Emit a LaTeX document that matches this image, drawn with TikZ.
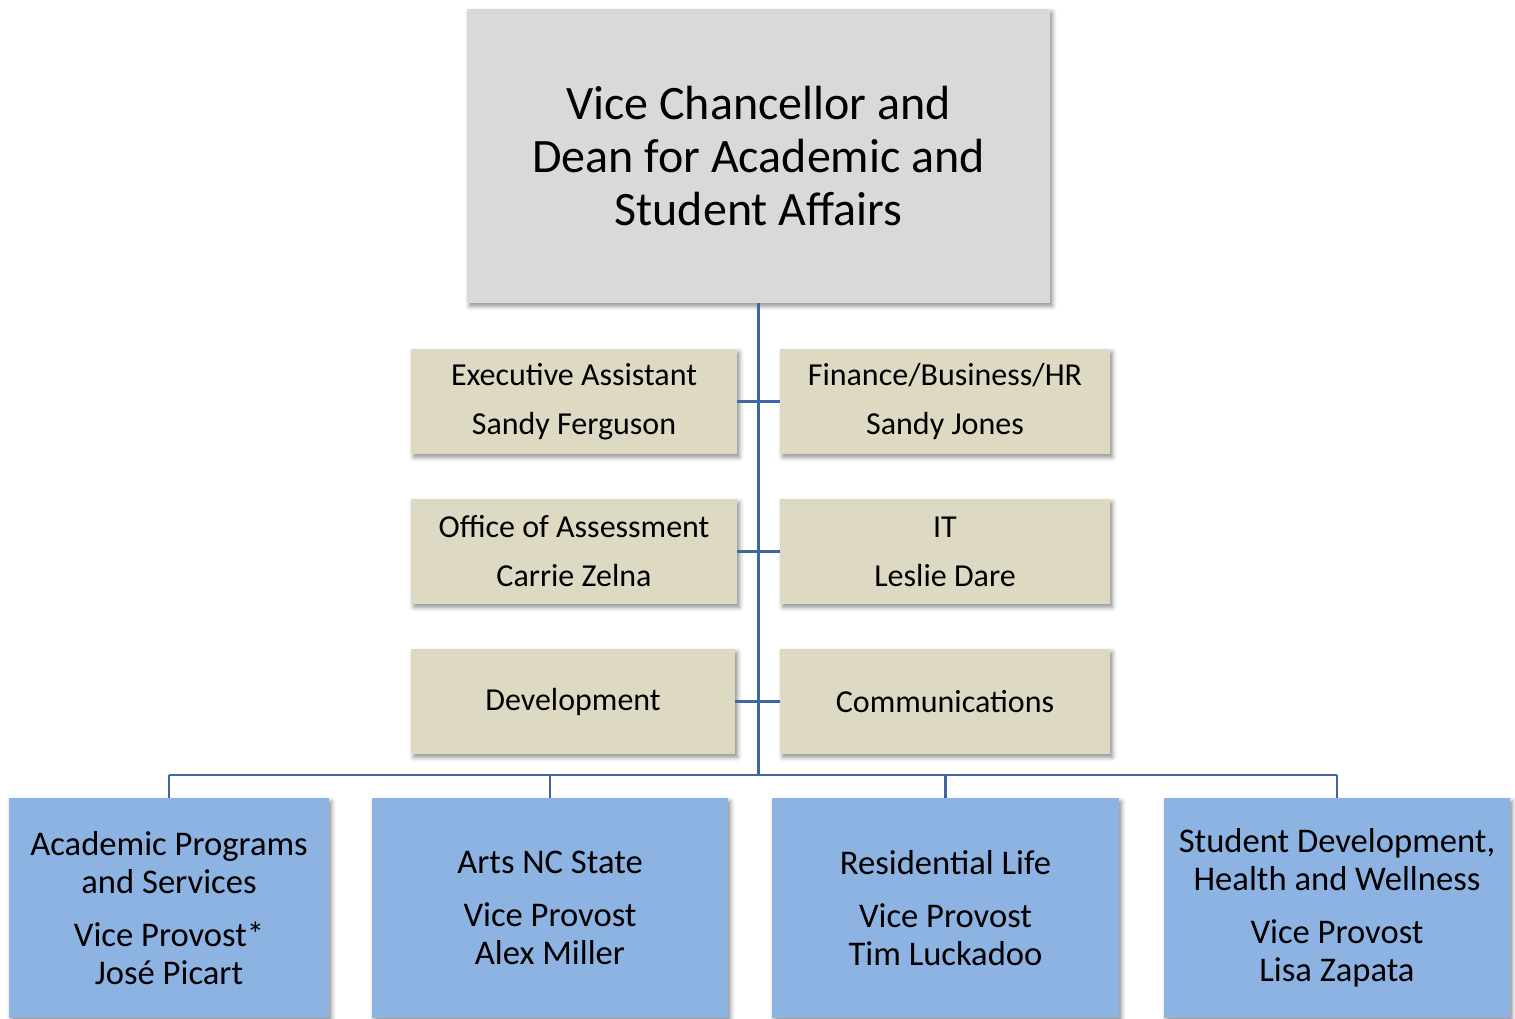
\documentclass[tikz,border=0pt]{standalone}
\usepackage{fontspec}
\setmainfont{Carlito}
\usepackage{tikz}
\usetikzlibrary{shadows.blur, calc, positioning}
\definecolor{deangray}{HTML}{D9D9D9}
\definecolor{stafftan}{HTML}{DDD9C3}
\definecolor{unitblue}{HTML}{8DB3E2}
\definecolor{linkblue}{HTML}{3F68A2}
\tikzstyle{boxshadow} = [blur shadow={shadow xshift=1.2pt, shadow yshift=-1.6pt, shadow blur radius=2.2pt, shadow opacity=45}]
\tikzstyle{dean} = [rectangle, fill=deangray, boxshadow, outer sep=0pt, minimum width=291.5pt, minimum height=147pt, align=center, font=\fontsize{24}{26.5}\selectfont]
\tikzstyle{staff} = [rectangle, fill=stafftan, boxshadow, outer sep=0pt, minimum height=52.5pt, align=center, inner sep=0pt, font=\fontsize{16}{16.5}\selectfont]
\tikzstyle{unit} = [rectangle, fill=unitblue, boxshadow, outer sep=0pt, minimum height=110pt, align=center, inner sep=0pt, font=\fontsize{17.3}{19}\selectfont]
\tikzstyle{link} = [draw=linkblue, line width=1.4pt]
\begin{document}
\begin{tikzpicture}[x=0.5pt, y=-0.5pt]
	\useasboundingbox (0,0) rectangle (1515,1018);
	\clip (0,0) rectangle (1515,1018);
	\node (Dean) [dean] at (758.5,156) {Vice Chancellor and\\Dean for Academic and\\Student Affairs};
	% staff offices
	\node (Assistant) [staff, minimum width=163pt] at (574,401.5) {Executive Assistant\\[8pt]Sandy Ferguson};
	\node (Finance) [staff, minimum width=165pt, right = 21.5pt of Assistant] {Finance/Business/HR\\[8pt]Sandy Jones};
	\node (Assessment) [staff, minimum width=163pt, below = 22.5pt of Assistant] {Office of Assessment\\[8pt]Carrie Zelna};
	\node (IT) [staff, minimum width=165pt, below = 22.5pt of Finance] {IT\\[8pt]Leslie Dare};
	\node (Development) [staff, minimum width=162pt, below = 22.5pt of Assessment.south west, anchor=north west] {Development};
	\node (Communications) [staff, minimum width=165pt, below = 22.5pt of IT] {Communications};
	% units
	\node (Academic) [unit, minimum width=160pt] at (169,908) {Academic Programs\\and Services\\[7.5pt]Vice Provost*\\José Picart};
	\node (Arts) [unit, minimum width=178pt, right = 21.5pt of Academic] {Arts NC State\\[7.5pt]Vice Provost\\Alex Miller};
	\node (Residential) [unit, minimum width=173.5pt, right = 22pt of Arts] {Residential Life\\[7.5pt]Vice Provost\\Tim Luckadoo};
	\node (Wellness) [unit, minimum width=173pt, right = 22.5pt of Residential] {Student Development,\\Health and Wellness\\[7.5pt]Vice Provost\\Lisa Zapata};
	\coordinate (Bus) at (758.5,775);
	\draw [link] (Dean.south) -- (Dean.south |- Bus);
	\draw [link] (Assistant.east) -- (Finance.west);
	\draw [link] (Assessment.east) -- (IT.west);
	\draw [link] (Development.east) -- (Communications.west);
	\draw [link] (Academic.north |- Bus) -- (Wellness.north |- Bus);
	\foreach \n in {Academic, Arts, Residential, Wellness}
		\draw [link] (\n.north) -- (\n.north |- Bus);
	
\end{tikzpicture}
\end{document}
